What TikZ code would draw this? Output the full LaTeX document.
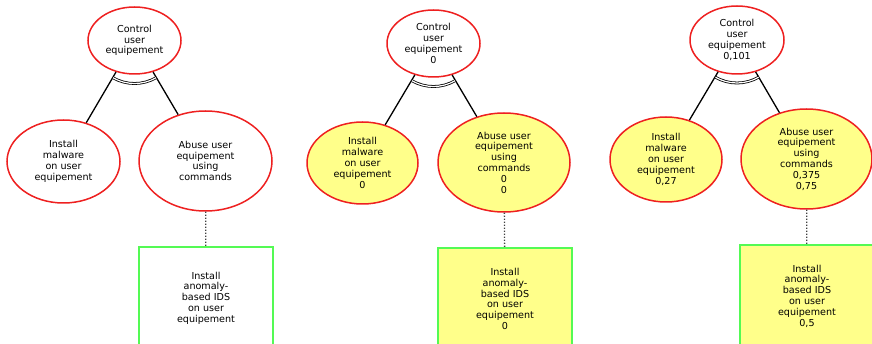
\documentclass[tikz,border=0pt]{standalone}
\usepackage{fontspec}
\setmainfont{DejaVu Sans}
\usetikzlibrary{shapes.geometric}
\definecolor{goalred}{RGB}{238,32,32}
\definecolor{evalyellow}{RGB}{255,255,138}
\definecolor{ctrgreen}{RGB}{84,250,84}
\begin{document}
\begin{tikzpicture}[x=1pt,y=-1pt,
  every node/.style={font=\fontsize{9.6}{10.8}\selectfont,align=center,inner sep=0pt},
  goal/.style={ellipse,draw=goalred,line width=1.5pt,fill=white},
  evalgoal/.style={goal,fill=evalyellow},
  counter/.style={rectangle,draw=ctrgreen,line width=2pt,fill=white,minimum width=134pt,minimum height=102pt},
  refine/.style={line width=1.3pt},
  conj/.style={double,line width=0.8pt,double distance=1.2pt},
  link/.style={line width=1.3pt,gray!50!black,dash pattern=on 1.2pt off 1.8pt}]
  \useasboundingbox (0,0) rectangle (872,344);
  \clip (0,0) rectangle (872,344);
  % tree without values
  \node[goal,minimum width=93pt,minimum height=67pt] (root1) at (134.5,40.5) {Control\\user\\equipement};
  \node[goal,minimum width=113pt,minimum height=83pt] (mal1) at (63.5,161.5) {Install\\malware\\on user\\equipement};
  \node[goal,minimum width=133pt,minimum height=100pt] (cmd1) at (205.5,161) {Abuse user\\equipement\\using\\commands};
  \node[counter] (ids1) at (206,298) {Install\\anomaly-\\based IDS\\on user\\equipement};
  % tree with zero values
  \node[goal,minimum width=93pt,minimum height=67pt] (root2) at (433.5,43.5) {Control\\user\\equipement\\0};
  \node[evalgoal,minimum width=111pt,minimum height=82pt] (mal2) at (362.5,163) {Install\\malware\\on user\\equipement\\0};
  \node[evalgoal,minimum width=132pt,minimum height=99pt] (cmd2) at (504,162.5) {Abuse user\\equipement\\using\\commands\\0\\0};
  \node[counter,fill=evalyellow] (ids2) at (505,299) {Install\\anomaly-\\based IDS\\on user\\equipement\\0};
  % tree with probabilities
  \node[goal,minimum width=94pt,minimum height=68pt] (root3) at (737,40) {Control\\user\\equipement\\0,101};
  \node[evalgoal,minimum width=112pt,minimum height=85pt] (mal3) at (666,159.5) {Install\\malware\\on user\\equipement\\0,27};
  \node[evalgoal,minimum width=131pt,minimum height=100pt] (cmd3) at (806.5,159) {Abuse user\\equipement\\using\\commands\\0,375\\0,75};
  \node[counter,fill=evalyellow] (ids3) at (807,296) {Install\\anomaly-\\based IDS\\on user\\equipement\\0,5};
  \foreach \t in {1,2,3}{
    \draw[refine] (root\t) -- (mal\t);
    \draw[refine] (root\t) -- (cmd\t);
    \draw[conj] ([shift={(240:43pt)}]root\t.center) arc[start angle=240,end angle=300,radius=43pt];
    \draw[link] (cmd\t) -- (ids\t);
  }
\end{tikzpicture}
\end{document}
